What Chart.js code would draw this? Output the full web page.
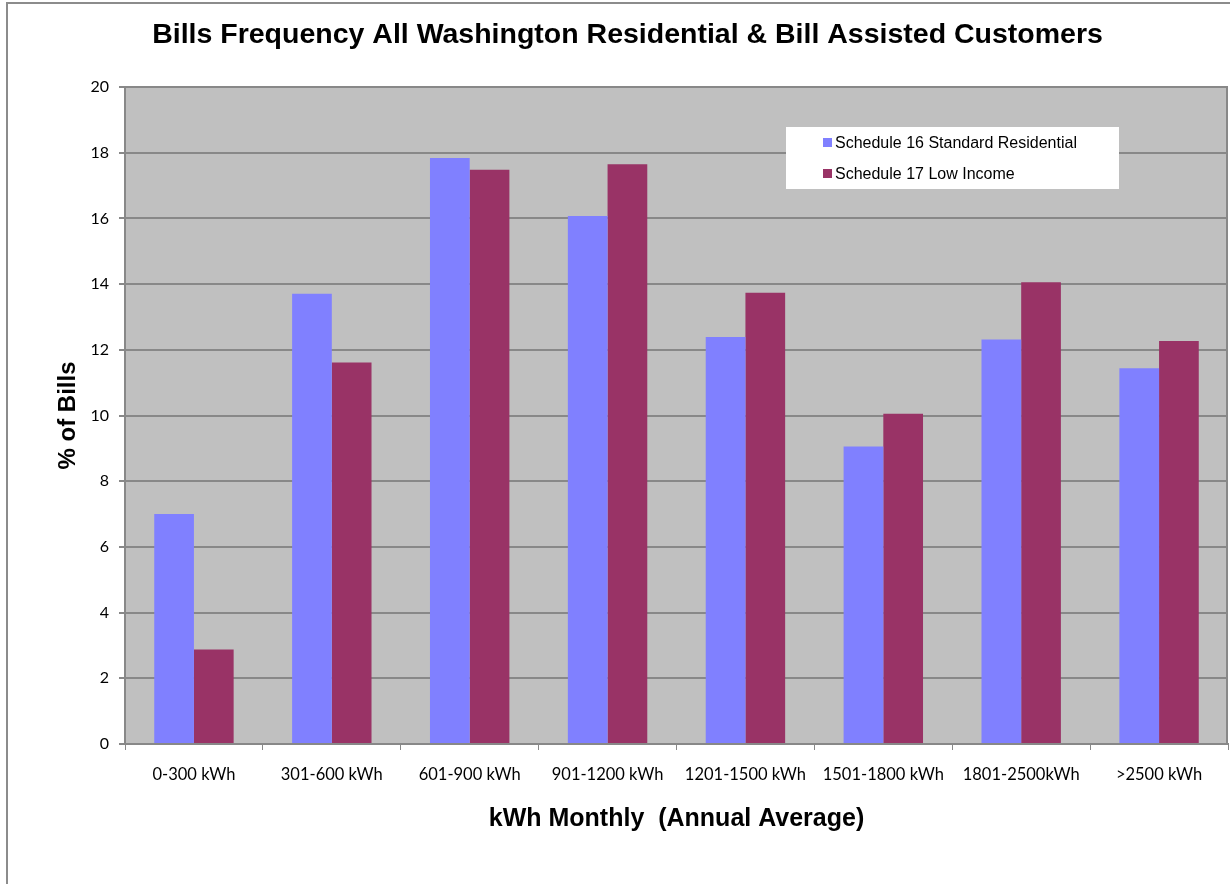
<!DOCTYPE html>
<html>
<head>
<meta charset="utf-8">
<title>Bills Frequency</title>
<script src="https://cdn.jsdelivr.net/npm/chart.js@4.4.1/dist/chart.umd.min.js"></script>
<style>
    html, body { margin: 0; padding: 0; background: #fff; }
    #wrap { position: relative; width: 1230px; height: 884px; overflow: hidden; }
    #frame { position: absolute; left: 6px; top: 2px; width: 1400px; height: 1000px;
             border-left: 2px solid #8c8c8c; border-top: 2px solid #8c8c8c; pointer-events: none; }
    #billChart { position: absolute; left: 0; top: 0; }
</style>
</head>
<body>
<div id="wrap">
    <div id="frame"></div>
    <canvas id="billChart" width="1230" height="884"></canvas>
</div>
<script>
    // Chart data
    const categories = ['0-300 kWh', '301-600 kWh', '601-900 kWh', '901-1200 kWh',
                        '1201-1500 kWh', '1501-1800 kWh', '1801-2500kWh', '>2500 kWh'];
    const standardResidential = [7.0, 13.71, 17.84, 16.07, 12.39, 9.06, 12.31, 11.44];
    const lowIncome = [2.88, 11.61, 17.48, 17.65, 13.74, 10.05, 14.06, 12.27];
    const seriesNames = ['Schedule 16 Standard Residential', 'Schedule 17 Low Income'];
    const yTicks = [0, 2, 4, 6, 8, 10, 12, 14, 16, 18, 20];

    const GRAY = '#888888';

    // grey plot background + right edge
    const plotBackground = {
        id: 'plotBackground',
        beforeDraw(chart) {
            const { ctx, chartArea: a } = chart;
            ctx.save();
            ctx.fillStyle = '#C0C0C0';
            ctx.fillRect(a.left, a.top, a.right - a.left, a.bottom - a.top);
            ctx.strokeStyle = GRAY;
            ctx.lineWidth = 2;
            ctx.beginPath();
            ctx.moveTo(a.right - 1, a.top);
            ctx.lineTo(a.right - 1, a.bottom);
            ctx.stroke();
            ctx.restore();
        }
    };

    // legend box inside the plot, like the original
    const boxLegend = {
        id: 'boxLegend',
        afterDraw(chart) {
            const { ctx, chartArea: a } = chart;
            const x = a.left + 661, y = a.top + 40;
            ctx.save();
            ctx.fillStyle = '#ffffff';
            ctx.fillRect(x, y, 333, 62);
            ctx.font = '16px "Liberation Sans", Arial, sans-serif';
            ctx.textBaseline = 'middle';
            chart.data.datasets.forEach(function(ds, i) {
                const rowY = y + 16 + i * 31;
                ctx.fillStyle = ds.backgroundColor;
                ctx.fillRect(x + 37, rowY - 5, 9, 9);
                ctx.fillStyle = '#000';
                ctx.fillText(ds.label, x + 49, rowY + 1);
            });
            ctx.restore();
        }
    };

    const ctx = document.getElementById('billChart').getContext('2d');
    const billChart = new Chart(ctx, {
        type: 'bar',
        data: {
            labels: categories,
            datasets: [{
                label: seriesNames[0],
                data: standardResidential,
                backgroundColor: '#8080FF'
            }, {
                label: seriesNames[1],
                data: lowIncome,
                backgroundColor: '#993366'
            }]
        },
        options: {
            responsive: false,
            animation: false,
            devicePixelRatio: 1,
            layout: {
                padding: { left: 27, right: 2, top: 0, bottom: 0 }
            },
            datasets: {
                bar: {
                    categoryPercentage: 0.576,
                    barPercentage: 1.0
                }
            },
            plugins: {
                legend: { display: false },
                tooltip: { enabled: false },
                title: {
                    display: true,
                    text: 'Bills Frequency All Washington Residential & Bill Assisted Customers',
                    color: '#000',
                    font: { family: '"Liberation Sans", Arial, sans-serif', size: 28.5, weight: 'bold' },
                    padding: { top: 18, bottom: 34.8 }
                }
            },
            scales: {
                x: {
                    afterFit: function(scale) { scale.height = 140; },
                    grid: {
                        offset: true,
                        drawOnChartArea: false,
                        drawTicks: true,
                        tickLength: 6,
                        color: GRAY,
                        tickColor: GRAY
                    },
                    border: { display: true, color: GRAY, width: 2 },
                    ticks: {
                        color: '#000',
                        padding: 15,
                        maxRotation: 0,
                        font: { family: 'Lato, sans-serif', size: 16.5 }
                    },
                    title: {
                        display: true,
                        text: 'kWh Monthly  (Annual Average)',
                        color: '#000',
                        font: { family: '"Liberation Sans", Arial, sans-serif', size: 25, weight: 'bold' },
                        padding: { top: 0, bottom: 50 }
                    }
                },
                y: {
                    min: 0,
                    max: 20,
                    afterFit: function(scale) { scale.width = 98; },
                    afterBuildTicks: function(scale) {
                        scale.ticks = yTicks.map(function(v) { return { value: v }; });
                    },
                    grid: {
                        color: GRAY,
                        lineWidth: 2,
                        tickLength: 6,
                        tickColor: GRAY
                    },
                    border: { display: true, color: GRAY, width: 2 },
                    ticks: {
                        color: '#000',
                        padding: 10,
                        font: { family: 'Lato, sans-serif', size: 16 }
                    },
                    title: {
                        display: true,
                        text: '% of Bills',
                        color: '#000',
                        font: { family: '"Liberation Sans", Arial, sans-serif', size: 24, weight: 'bold' },
                        padding: { top: 27, bottom: 0 }
                    }
                }
            }
        },
        plugins: [plotBackground, boxLegend]
    });
</script>
</body>
</html>
